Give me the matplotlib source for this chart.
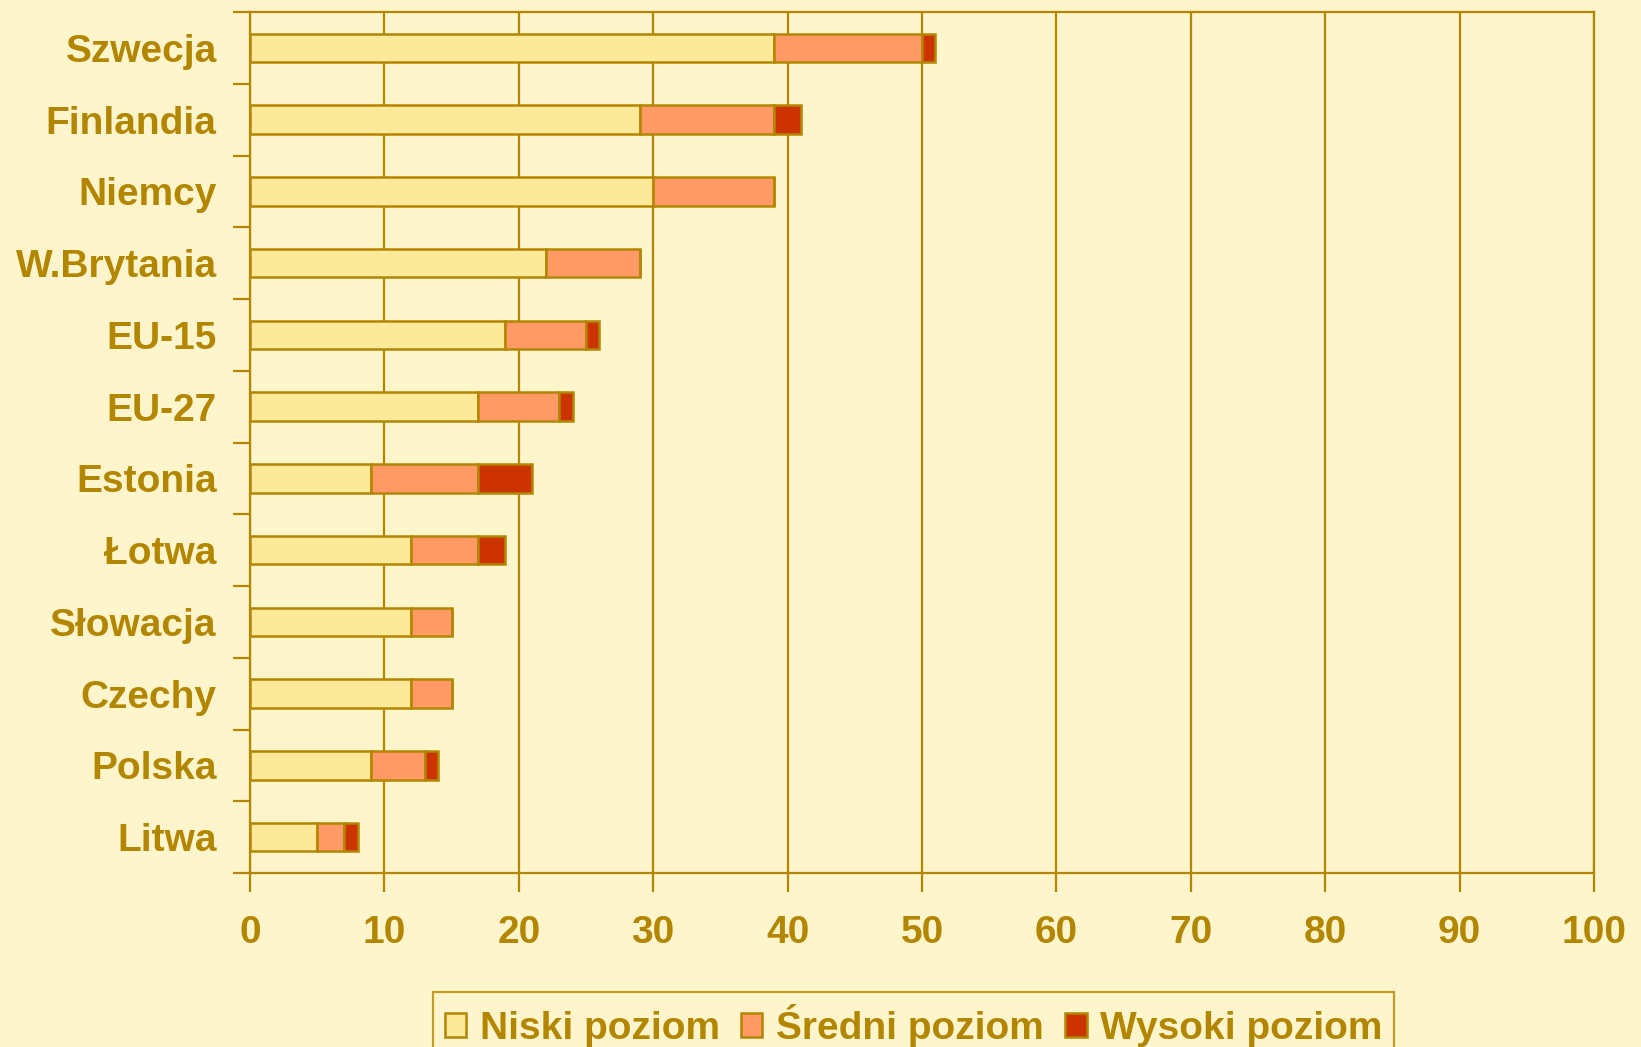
import matplotlib
matplotlib.use("Agg")
import matplotlib.pyplot as plt
import numpy as np

categories = ["Szwecja", "Finlandia", "Niemcy", "W.Brytania", "EU-15", "EU-27",
              "Estonia", "Łotwa", "Słowacja", "Czechy", "Polska", "Litwa"]
niski = [39, 29, 30, 22, 19, 17, 9, 12, 12, 12, 9, 5]
sredni = [11, 10, 9, 7, 6, 6, 8, 5, 3, 3, 4, 2]
wysoki = [1, 2, 0, 0, 1, 1, 4, 2, 0, 0, 1, 1]
series_names = ["Niski poziom", "Średni poziom", "Wysoki poziom"]
xticks = [0, 10, 20, 30, 40, 50, 60, 70, 80, 90, 100]

BG = "#FFF5CC"
GOLD = "#B38600"
colors = ["#FCEA9A", "#FF9966", "#CC3300"]

plt.rcParams['font.family'] = ['Liberation Sans', 'DejaVu Sans']

fig = plt.figure(figsize=(16.41, 10.47), dpi=100, facecolor=BG)
ax = fig.add_axes([250/1641, 1-873/1047, (1594-250)/1641, (873-12)/1047])
ax.set_facecolor(BG)

y = np.arange(len(categories))
left = np.zeros(len(categories))
for vals, c, name in zip([niski, sredni, wysoki], colors, series_names):
    vals = np.array(vals, dtype=float)
    ax.barh(y, vals, left=left, height=0.4, color=c, edgecolor=GOLD,
            linewidth=1.8, label=name, zorder=3)
    left += vals

ax.set_xlim(0, 100)
ax.set_ylim(len(categories) - 0.5, -0.5)
ax.set_xticks(xticks)
ax.set_xticklabels([str(v) for v in xticks])
ax.set_yticks(y)
ax.set_yticklabels(categories)
ax.set_yticks(np.arange(-0.5, len(categories), 1.0), minor=True)

ax.tick_params(axis='y', which='major', length=0, pad=24, labelsize=28,
               labelcolor=GOLD)
ax.tick_params(axis='y', which='minor', length=12, width=1.6, color=GOLD,
               direction='out')
ax.tick_params(axis='x', which='major', length=14, width=1.6, color=GOLD,
               direction='out', pad=16, labelsize=28, labelcolor=GOLD)
for lab in ax.get_xticklabels() + ax.get_yticklabels():
    lab.set_fontweight('bold')

ax.set_axisbelow(True)
ax.grid(axis='x', color=GOLD, linewidth=1.6, zorder=0)
ax.grid(axis='y', visible=False)
for s in ax.spines.values():
    s.set_color(GOLD)
    s.set_linewidth(1.6)

leg = fig.legend(loc='upper left', bbox_to_anchor=(433/1641, 1-992/1047),
                 ncol=3, frameon=True,
                 prop={'weight': 'bold', 'size': 28},
                 handlelength=0.55, handleheight=0.6, handletextpad=0.35,
                 columnspacing=0.55, borderpad=0.3, borderaxespad=0,
                 fancybox=False)
leg.get_frame().set_facecolor(BG)
leg.get_frame().set_edgecolor(GOLD)
leg.get_frame().set_linewidth(1.6)
for t in leg.get_texts():
    t.set_color(GOLD)

fig.savefig("out.png", dpi=100, facecolor=BG)
